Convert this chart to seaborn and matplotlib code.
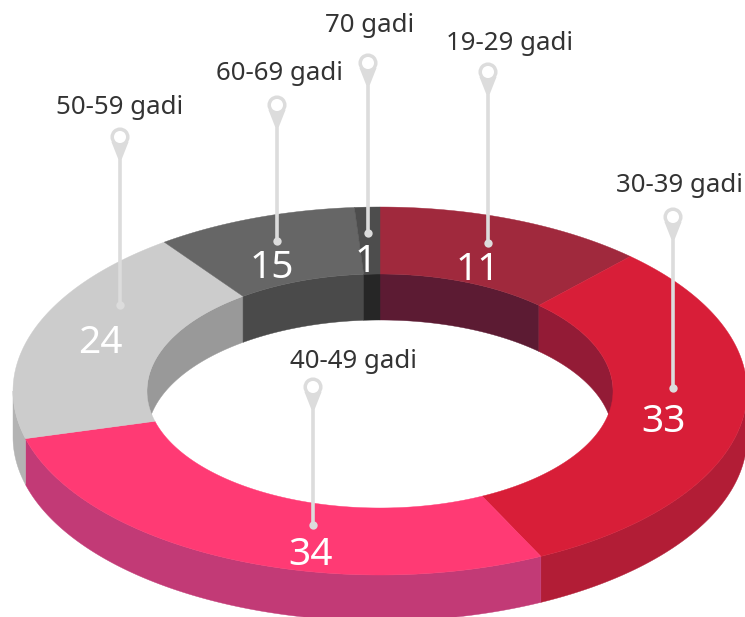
import numpy as np
import pandas as pd
import matplotlib
matplotlib.use("Agg")
import matplotlib.pyplot as plt
from matplotlib.patches import Circle, Polygon
import seaborn as sns

# slices clockwise from 12 o'clock
groups = ["19-29 gadi", "30-39 gadi", "40-49 gadi", "50-59 gadi", "60-69 gadi", "70 gadi"]
values = [11, 33, 34, 24, 15, 1]
# the arcs in the picture are not proportional to the printed numbers, so read them off
arc_degrees = [43, 111, 101, 69, 32, 4]

top_colors = ["#A0293D", "#D81E38", "#FF3A74", "#CCCCCC", "#666666", "#4D4D4D"]
inner_colors = ["#5C1B33", "#931B36", "#B5305F", "#999999", "#4A4A4A", "#262626"]
outer_colors = ["#7A1F33", "#B21D36", "#C23A76", "#B3B3B3", "#555555", "#333333"]

# pixel placement of the annotations
pin_x = [488, 673, 313, 120, 277, 368]
pin_head_y = [72, 217, 387, 137, 105, 63]
pin_dot_y = [243, 388, 525, 305, 241, 233]
label_x = [509, 679, 353, 120, 279, 370]
label_y = [43, 186, 361, 108, 74, 26]
number_x = [478, 664, 311, 100, 272, 366]
number_y = [270, 422, 555, 343, 268, 262]

# ring geometry in pixels
cx, cy = 380, 391
outer_rx, outer_ry = 367, 184
inner_rx, inner_ry = 233, 117
depth = 46
pin_grey = "#DCDCDC"


def arc(rx, ry, a0, a1, shift=0):
    t = np.radians(np.linspace(a0, a1, max(int(abs(a1 - a0)) * 2, 2)))
    return np.column_stack([cx + rx * np.sin(t), cy - ry * np.cos(t) + shift])


df = pd.DataFrame({"group": groups, "value": values, "arc": arc_degrees})
df["end"] = df["arc"].cumsum()
df["start"] = df["end"] - df["arc"]

sns.set_theme(style="white")
plt.rcParams["font.family"] = ["Noto Sans", "DejaVu Sans"]

fig, ax = plt.subplots(figsize=(7.45, 6.17), dpi=100)
fig.subplots_adjust(0, 0, 1, 1)
ax.set_xlim(0, 745)
ax.set_ylim(617, 0)
ax.axis("off")

# inner wall, back half of the hole
for i, row in df.iterrows():
    for a0, a1 in [(row.start, min(row.end, 90)), (max(row.start, 270), row.end)]:
        if a1 > a0:
            top = arc(inner_rx, inner_ry, a0, a1)
            bottom = arc(inner_rx, inner_ry, a1, a0, depth)
            ax.add_patch(Polygon(np.vstack([top, bottom]), fc=inner_colors[i], ec=inner_colors[i], lw=0.3, zorder=1))

# outer wall, front half
for i, row in df.iterrows():
    a0, a1 = max(row.start, 90), min(row.end, 270)
    if a1 > a0:
        top = arc(outer_rx, outer_ry, a0, a1)
        bottom = arc(outer_rx, outer_ry, a1, a0, depth)
        ax.add_patch(Polygon(np.vstack([top, bottom]), fc=outer_colors[i], ec=outer_colors[i], lw=0.3, zorder=1))

# top face
for i, row in df.iterrows():
    pts = np.vstack([arc(outer_rx, outer_ry, row.start, row.end), arc(inner_rx, inner_ry, row.end, row.start)])
    ax.add_patch(Polygon(pts, fc=top_colors[i], ec=top_colors[i], lw=0.3, zorder=2))

# pins
pins = pd.DataFrame({"x": pin_x, "y": pin_dot_y})
ax.vlines(pin_x, pin_head_y, pin_dot_y, color=pin_grey, lw=2.6, zorder=3)
sns.scatterplot(data=pins, x="x", y="y", color=pin_grey, s=36, linewidth=0, zorder=4, ax=ax, legend=False)
for x, y in zip(pin_x, pin_head_y):
    ax.add_patch(Polygon([(x - 8.5, y + 5), (x + 8.5, y + 5), (x + 1.8, y + 22), (x - 1.8, y + 22)],
                         fc=pin_grey, ec="none", zorder=3))
    ax.add_patch(Circle((x, y), 7.8, fc="white", ec=pin_grey, lw=2.5, zorder=4))

for i in range(len(groups)):
    ax.text(label_x[i], label_y[i], groups[i], fontsize=18.6, color="#333333", ha="center", va="center", zorder=6)
    ax.text(number_x[i], number_y[i], str(values[i]), fontsize=28, color="white", ha="center", va="center", zorder=6)

fig.savefig("out.png", dpi=100, facecolor="white")
